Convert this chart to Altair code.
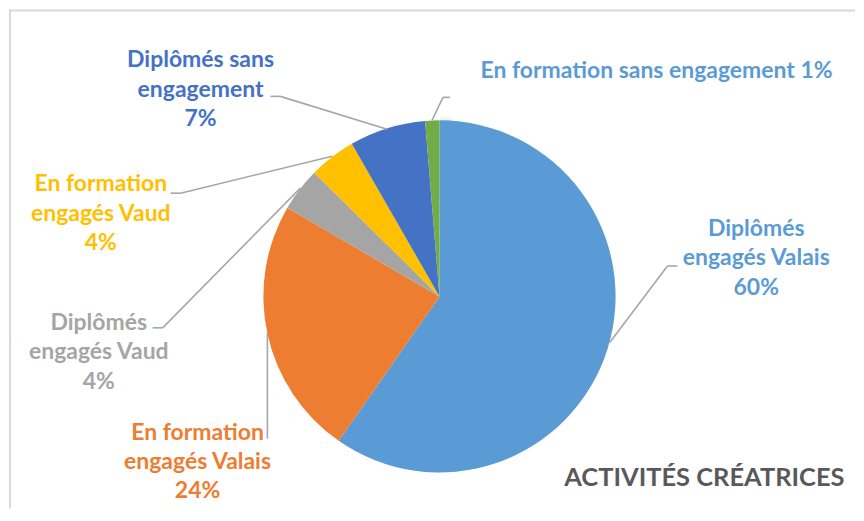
import altair as alt
import pandas as pd

# Slice data (clockwise from 12 o'clock)
categories = [
    "Diplômés engagés Valais",
    "En formation engagés Valais",
    "Diplômés engagés Vaud",
    "En formation engagés Vaud",
    "Diplômés sans engagement",
    "En formation sans engagement",
]
values = [59.7, 23.7, 4.0, 4.3, 7.0, 1.3]
pct_labels = ["60%", "24%", "4%", "4%", "7%", "1%"]
label_texts = [
    "Diplômés\nengagés Valais\n60%",
    "En formation\nengagés Valais\n24%",
    "Diplômés\nengagés Vaud\n4%",
    "En formation\nengagés Vaud\n4%",
    "Diplômés sans\nengagement\n7%",
    "En formation sans engagement 1%",
]
colors = ["#5B9BD5", "#ED7D31", "#A5A5A5", "#FFC000", "#4472C4", "#70AD47"]
label_colors = ["#5B9BD5", "#ED7D31", "#A5A5A5", "#FFC000", "#4472C4", "#5B9BD5"]
title_text = "ACTIVITÉS CRÉATRICES"

df = pd.DataFrame({"cat": categories, "value": values, "idx": list(range(len(categories)))})

W, H = 848, 500
CX, CY, R = 431.5, 287.5, 176.5
FONT = "Lato"

# soft shadow rings
shadow_df = pd.DataFrame({"v": [1]})
shadows = []
for rad, op in [(183, 0.03), (180.5, 0.06), (178.5, 0.10)]:
    shadows.append(
        alt.Chart(shadow_df).mark_arc(radius=rad, color="#7f7f7f", opacity=op)
        .encode(theta=alt.Theta("v:Q"), x=alt.value(CX + 1), y=alt.value(CY + 1.5))
    )

pie = alt.Chart(df).mark_arc(radius=R, stroke=None).encode(
    theta=alt.Theta("value:Q", stack=True),
    order=alt.Order("idx:Q"),
    color=alt.Color("cat:N", scale=alt.Scale(domain=categories, range=colors), legend=None),
    x=alt.value(CX),
    y=alt.value(CY),
)

# label anchor positions (annotation placement, chart pixels; y = first line centre)
label_pos = [(749, 220), (189, 424), (90, 314), (92, 175), (192, 51), (649, 62)]

label_layers = []
for txt, col, (lx, ly) in zip(label_texts, label_colors, label_pos):
    label_layers.append(
        alt.Chart(pd.DataFrame({"t": [txt]})).mark_text(
            font=FONT, fontSize=23, fontWeight="bold", color=col,
            align="center", baseline="middle", lineBreak="\n", lineHeight=29.5,
        ).encode(text="t:N", x=alt.value(lx), y=alt.value(ly))
    )

# leader line segments (x1, y1, x2, y2)
segments = [
    (262, 87, 272, 87), (272, 87, 379, 120),
    (442, 88, 435, 88), (435, 88, 424, 111),
    (162, 184, 172, 184), (172, 184, 324, 147),
    (144, 319, 154, 319), (154, 319, 292, 179),
    (259, 430, 259, 324),
    (670, 257, 660, 257), (660, 257, 602, 334),
]
seg_layers = []
for (x1, y1, x2, y2) in segments:
    seg_layers.append(
        alt.Chart(shadow_df).mark_rule(color="#A6A6A6", strokeWidth=1.6)
        .encode(x=alt.value(x1), y=alt.value(y1), x2=alt.value(x2), y2=alt.value(y2))
    )

title = alt.Chart(pd.DataFrame({"t": [title_text]})).mark_text(
    font=FONT, fontSize=25.5, fontWeight="bold", color="#595959",
    align="center", baseline="middle",
).encode(text="t:N", x=alt.value(697), y=alt.value(470))

border_left = alt.Chart(shadow_df).mark_rule(color="#D9D9D9", strokeWidth=2).encode(
    x=alt.value(1), y=alt.value(0), y2=alt.value(H)
)
border_top = alt.Chart(shadow_df).mark_rule(color="#D9D9D9", strokeWidth=2).encode(
    x=alt.value(0), x2=alt.value(W), y=alt.value(1)
)

chart = alt.layer(
    border_left, border_top, *shadows, pie, *seg_layers, *label_layers, title
).properties(width=W, height=H, padding=0, background="white").configure_view(stroke=None)

chart.save("out.html", embed_options={"renderer": "svg", "actions": False})
